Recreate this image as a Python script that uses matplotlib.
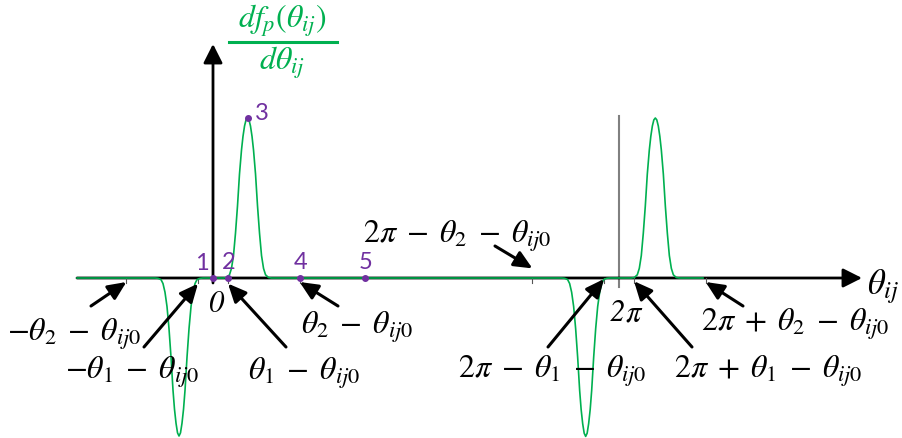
import numpy as np
import matplotlib
matplotlib.use("Agg")
import matplotlib.pyplot as plt
from matplotlib.patches import FancyArrowPatch

plt.rcParams['mathtext.fontset'] = 'stix'

# ---------------- data (radians on x, normalised derivative on y) ----------------
theta1 = 0.232          # theta_1 - theta_ij0
theta2 = 1.34           # theta_2 - theta_ij0
two_pi = 2 * np.pi

# pulse shape: offset from pulse centre (rad) and relative height
pulse_offsets = [0.0, 0.023, 0.046, 0.070, 0.093, 0.124, 0.155, 0.186, 0.217, 0.248, 0.279, 0.325, 0.371]
peak_profile  = [1.0, 0.988, 0.95, 0.885, 0.80, 0.65, 0.45, 0.28, 0.14, 0.06, 0.02, 0.003, 0.0]
dip_profile   = [1.0, 0.98, 0.92, 0.83, 0.71, 0.50, 0.32, 0.18, 0.09, 0.035, 0.01, 0.002, 0.0]

pulse_centers = [-0.526, 0.534, 5.767, 6.845]
pulse_amps    = [-0.9875, 1.0, -0.99, 1.0]
curve_start, curve_end = -2.105, 7.583

# labelled positions on the axis
S = r'\;'
tick_pos = [-theta2, -theta1, theta1, theta2, two_pi - theta2, two_pi - theta1,
            two_pi + theta1, two_pi + theta2]
tick_labels = [rf'$-\theta_2{S}-{S}\theta_{{ij0}}$', rf'$-\theta_1{S}-{S}\theta_{{ij0}}$',
               rf'$\theta_1{S}-{S}\theta_{{ij0}}$', rf'$\theta_2{S}-{S}\theta_{{ij0}}$',
               rf'$2\pi{S}-{S}\theta_2{S}-{S}\theta_{{ij0}}$', rf'$2\pi{S}-{S}\theta_1{S}-{S}\theta_{{ij0}}$',
               rf'$2\pi{S}+{S}\theta_1{S}-{S}\theta_{{ij0}}$', rf'$2\pi{S}+{S}\theta_2{S}-{S}\theta_{{ij0}}$']

# numbered points
pt_names = ['1', '2', '3', '4', '5']
pt_x = [0.0, theta1, 0.534, theta2, 2.352]
pt_y = [0.0, 0.0, 1.0, 0.0, 0.0]

# ---------------- helpers: picture pixels -> data ----------------
X0, SX = 213.0, 64.62
Y0, SY = 279.0, 160.0
def dx(p): return (p - X0) / SX
def dy(p): return (Y0 - p) / SY

GREEN = '#00B050'
PURPLE = '#7030A0'

fig = plt.figure(figsize=(9.02, 4.39), dpi=100)
ax = fig.add_axes([0, 0, 1, 1])
ax.set_xlim(dx(0), dx(902))
ax.set_ylim(dy(439), dy(0))
ax.axis('off')

# gray vertical line at 2*pi
ax.plot([two_pi, two_pi], [dy(288), dy(117)], color='#808080', lw=1.5, zorder=1)

# axes with arrow heads
astyle = "-|>,head_length=11.5,head_width=5.8"
ax.add_patch(FancyArrowPatch((dx(77), 0), (dx(862), 0), arrowstyle=astyle,
                             mutation_scale=1, lw=2, color='black',
                             shrinkA=0, shrinkB=0, zorder=2))
ax.add_patch(FancyArrowPatch((0, dy(284)), (0, dy(45)), arrowstyle=astyle,
                             mutation_scale=1, lw=2, color='black',
                             shrinkA=0, shrinkB=0, zorder=2))

# small ticks
for t in tick_pos:
    ax.plot([t, t], [0, dy(284)], color='#555555', lw=0.8, zorder=2)

# build curve from read profiles
xs, ys = [curve_start], [0.0]
offs = np.array(pulse_offsets)
for c, a in zip(pulse_centers, pulse_amps):
    prof = np.array(peak_profile if a > 0 else dip_profile)
    xs += list(c - offs[::-1]) + list(c + offs[1:])
    ys += list(a * prof[::-1]) + list(a * prof[1:])
xs.append(curve_end); ys.append(0.0)
ax.plot(xs, ys, color=GREEN, lw=1.2, zorder=3)

# numbered points
ax.plot(pt_x, pt_y, 'o', color=PURPLE, ms=4, zorder=4)
pt_text_pos = [(202, 264), (229, 263), (262, 114), (301, 263), (366, 263)]
for name, (tx, ty) in zip(pt_names, pt_text_pos):
    ax.text(dx(tx), dy(ty), name, color=PURPLE, fontsize=17, family='Lato',
            ha='center', va='center', zorder=5)

# label texts and arrows
label_pos = [(74, 334), (132, 372), (304, 373), (357, 327),
             (457, 236), (552, 371), (768, 371), (795, 324)]
tail_pos = [(91, 307), (144, 348), (286, 348), (338, 307),
            (495, 247), (548, 348), (692, 348), (743, 307)]
tip_dy = [-0.025, -0.035, -0.035, -0.025, 0.06, -0.006, -0.02, -0.025]
for t, lab, lp, tp, tdy in zip(tick_pos, tick_labels, label_pos, tail_pos, tip_dy):
    ax.text(dx(lp[0]), dy(lp[1]), lab, fontsize=23, ha='center', va='center', color='black')
    ax.annotate('', xy=(t, tdy), xytext=(dx(tp[0]), dy(tp[1])),
                arrowprops=dict(arrowstyle='-|>,head_length=1.1,head_width=0.5',
                                lw=2.2, color='black', shrinkA=0, shrinkB=0))

# other texts
ax.text(dx(216), dy(304), '0', fontsize=22, family='STIXGeneral', style='italic',
        ha='center', va='center')
ax.text(dx(625), dy(313), '2', fontsize=22, family='STIXGeneral', style='italic',
        ha='right', va='center')
ax.text(dx(625), dy(313), r'$\pi$', fontsize=22, ha='left', va='center')
ax.text(dx(883), dy(287), r'$\theta_{ij}$', fontsize=25, ha='center', va='center')

# y-axis title as a fraction
ax.text(dx(282), dy(21), r'$df_p(\theta_{ij})$', fontsize=23,
        ha='center', va='center', color=GREEN)
ax.plot([dx(229), dx(337)], [dy(43), dy(43)], color=GREEN, lw=2.2)
ax.text(dx(282), dy(63), r'$d\theta_{ij}$', fontsize=23,
        ha='center', va='center', color=GREEN)

fig.savefig('out.png', dpi=100)
